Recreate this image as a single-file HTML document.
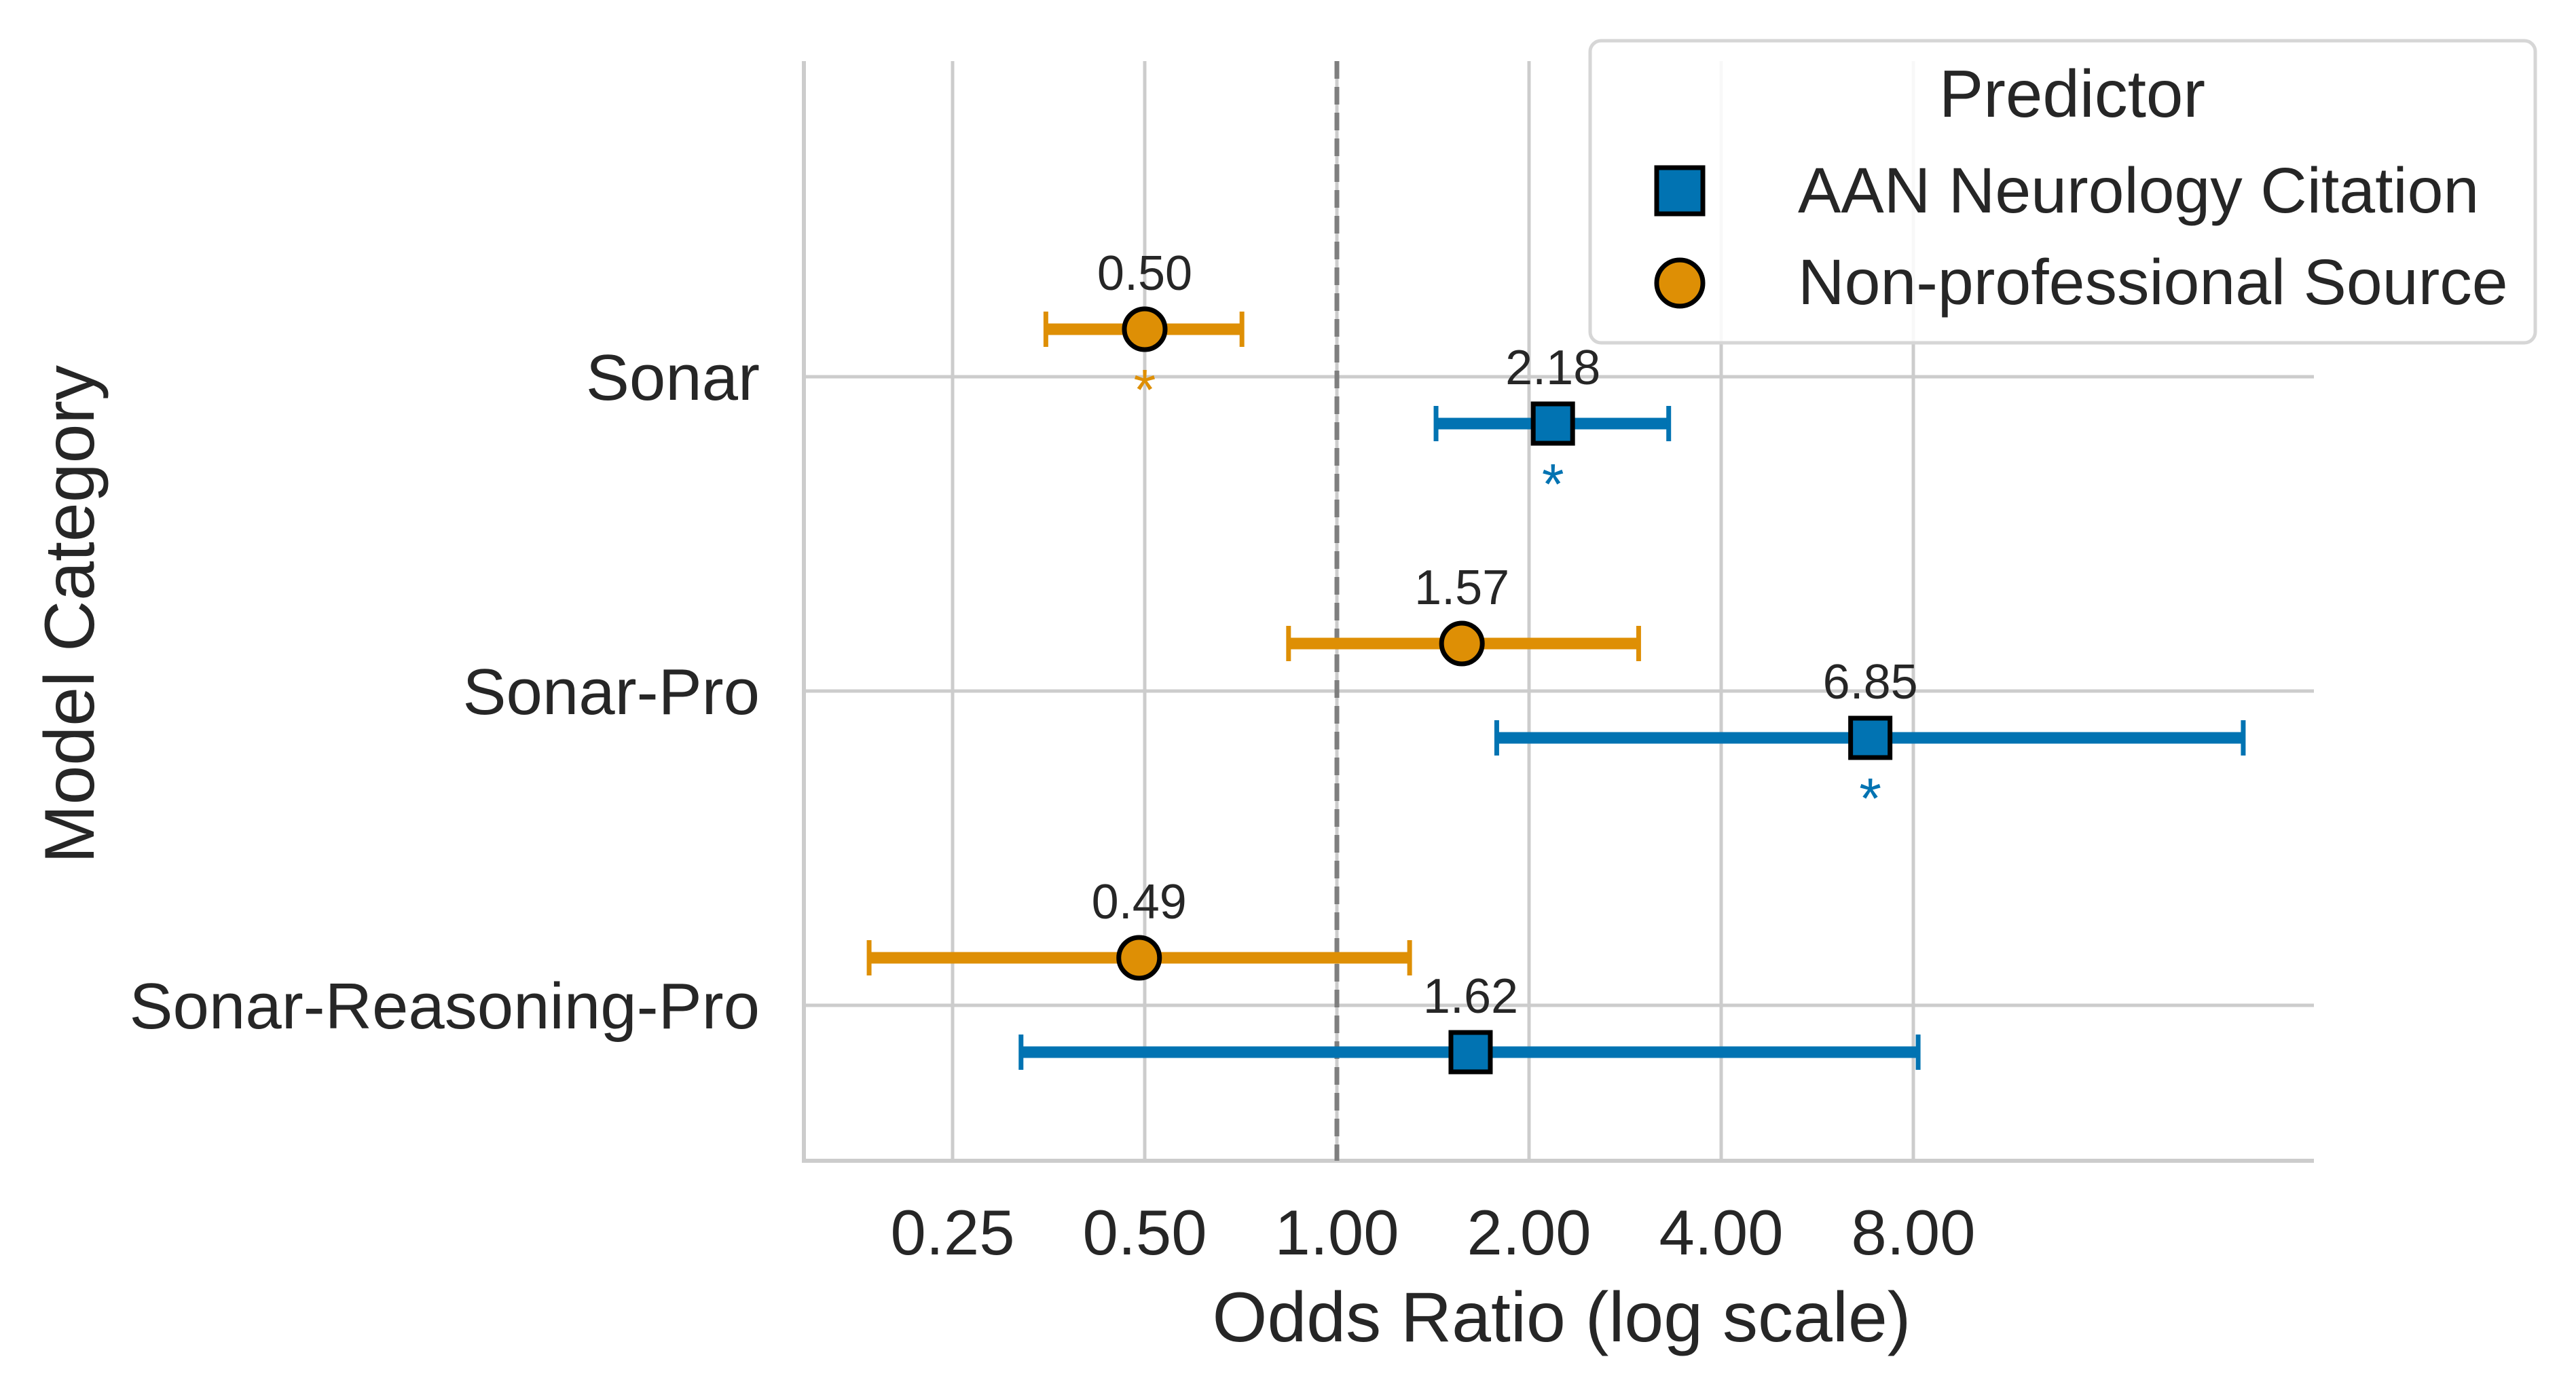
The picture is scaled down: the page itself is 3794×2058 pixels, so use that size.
<!DOCTYPE html>
<html><head><meta charset="utf-8"><style>
html,body{margin:0;padding:0;background:#fff;}
svg{display:block;font-family:"Liberation Sans",sans-serif;}
</style></head><body>
<svg id="chart" width="3794" height="2058" viewBox="0 0 3794 2058">
<g id="grid"></g>
<g id="axes"></g>
<g id="marks"></g>
<g id="legend">
  <rect x="2342" y="60" width="1392" height="445" rx="16" fill="#fff" fill-opacity="0.85" stroke="#d6d6d6" stroke-width="5"/>
  <text x="3052" y="172" font-size="98" text-anchor="middle" fill="#262626">Predictor</text>
  <rect x="2440" y="247" width="68" height="68" fill="#0173b2" stroke="#000" stroke-width="7"/>
  <text x="2648" y="313" font-size="95" fill="#262626">AAN Neurology Citation</text>
  <circle cx="2474" cy="417" r="34" fill="#de8f05" stroke="#000" stroke-width="7"/>
  <text x="2648" y="448" font-size="95" fill="#262626">Non-professional Source</text>
</g>
</svg>
<script>
const categories = ["Sonar", "Sonar-Pro", "Sonar-Reasoning-Pro"];
const tickValues = [0.25, 0.5, 1, 2, 4, 8];
const tickLabels = ["0.25", "0.50", "1.00", "2.00", "4.00", "8.00"];
const aanOR = [2.18, 6.85, 1.62];
const aanLow = [1.43, 1.78, 0.32];
const aanHigh = [3.31, 26.3, 8.14];
const aanSig = [true, true, false];
const npOR = [0.50, 1.57, 0.49];
const npLow = [0.35, 0.84, 0.185];
const npHigh = [0.71, 2.97, 1.30];
const npSig = [true, false, false];

const NS = "http://www.w3.org/2000/svg";
const X0 = 1184, X1 = 3408, Y0 = 90, Y1 = 1710;
function xScale(v){ return 1969 + 283 * Math.log2(v); }
function yScale(i){ return 555 + 463 * i; }
function mk(parent, tag, attrs){
  const e = document.createElementNS(NS, tag);
  for (const k in attrs) e.setAttribute(k, attrs[k]);
  document.getElementById(parent).appendChild(e);
  return e;
}
tickValues.forEach((v,i)=>{
  const l = mk("grid","line",{x1:xScale(v),x2:xScale(v),y1:Y0,y2:Y1,stroke:"#cccccc","stroke-width":5});
  
  
  const t = mk("axes","text",{x:xScale(v),y:1848,"font-size":94,"text-anchor":"middle",fill:"#262626"});
  t.textContent = tickLabels[i];
  
  
});
categories.forEach((c,i)=>{
  const l = mk("grid","line",{x1:X0,x2:X1,y1:yScale(i),y2:yScale(i),stroke:"#cccccc","stroke-width":5});
  
  
  const t = mk("axes","text",{x:1119,y:yScale(i)+34,"font-size":96,"text-anchor":"end",fill:"#262626"});
  t.textContent = c;
  
  
});
let s = mk("axes","line",{x1:X0,x2:X0,y1:Y0,y2:Y1+3,stroke:"#cccccc","stroke-width":6});


s = mk("axes","line",{x1:X0,x2:X1,y1:Y1,y2:Y1,stroke:"#cccccc","stroke-width":6});


s = mk("axes","line",{x1:xScale(1),x2:xScale(1),y1:Y0,y2:Y1,stroke:"#7f7f7f","stroke-width":7,"stroke-dasharray":"26 12"});


let t = mk("axes","text",{x:2300,y:1976,"font-size":104,"text-anchor":"middle",fill:"#262626"});
t.textContent = "Odds Ratio (log scale)";


t = mk("axes","text",{x:0,y:0,"font-size":104,"text-anchor":"middle",fill:"#262626",transform:"translate(138,905) rotate(-90)"});
t.textContent = "Model Category";



function series(or, lo, hi, sig, off, color, shape, name){
  categories.forEach((c,i)=>{
    const y = yScale(i) + off;
    const bar = mk("marks","line",{x1:xScale(lo[i]),x2:xScale(hi[i]),y1:y,y2:y,stroke:color,"stroke-width":17});
    
    
    [lo[i],hi[i]].forEach(v=>{
      const cap = mk("marks","line",{x1:xScale(v),x2:xScale(v),y1:y-26,y2:y+26,stroke:color,"stroke-width":7});
      
      
    });
    let m;
    if (shape === "square") m = mk("marks","rect",{x:xScale(or[i])-29,y:y-29,width:58,height:58,fill:color,stroke:"#000","stroke-width":7});
    else m = mk("marks","circle",{cx:xScale(or[i]),cy:y,r:30,fill:color,stroke:"#000","stroke-width":7});
    
    
    const lab = mk("marks","text",{x:xScale(or[i]),y:y-58,"font-size":72,"text-anchor":"middle",fill:"#262626"});
    lab.textContent = or[i].toFixed(2);
    
    
    if (sig[i]) {
      const a = mk("marks","text",{x:xScale(or[i]),y:y+118,"font-size":84,"text-anchor":"middle",fill:color});
      a.textContent = "*";
      
      
    }
  });
}
series(npOR, npLow, npHigh, npSig, -70, "#de8f05", "circle", "nonpro");
series(aanOR, aanLow, aanHigh, aanSig, 69, "#0173b2", "square", "aan");
</script>
</body></html>
